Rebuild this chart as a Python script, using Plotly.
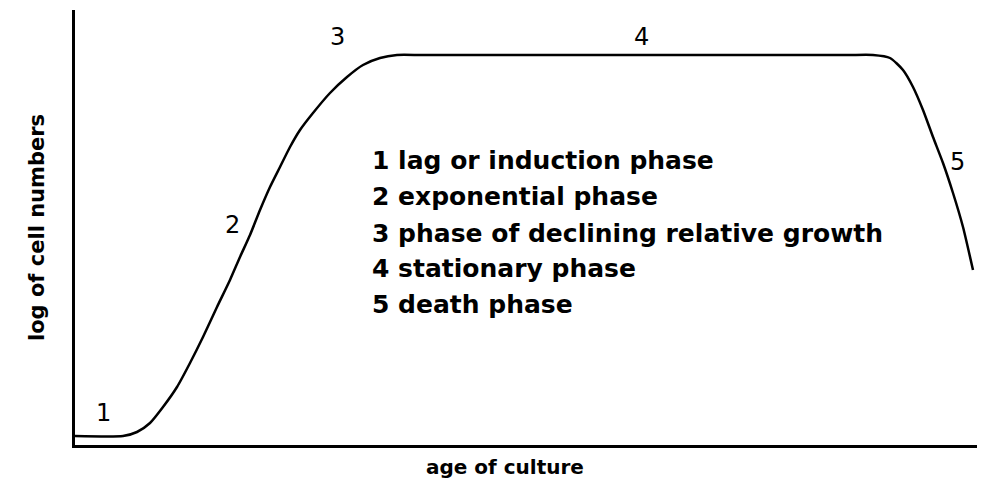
import plotly.graph_objects as go

# growth curve (age in arbitrary units, log of cell numbers)
age = [0, 4.8, 6.2, 7.5, 8.8, 10.2, 11.5, 12.8, 14.2, 15.5, 16.5, 17.5, 18.5, 19.5, 20.5,
       21.5, 22.5, 23.8, 25.5, 27.2, 28.8, 30.5, 32.2, 34.5, 37.0, 45.0, 56.0, 67.0, 75.0,
       77.5, 79.8, 81.5, 82.8, 83.8, 84.8, 85.8, 86.8, 87.8, 88.8, 89.8]
log_cells = [0.9, 0.9, 1.3, 2.2, 3.8, 5.8, 8.2, 10.8, 13.8, 16.5, 18.8, 21.0, 23.5, 25.8, 27.8,
             29.8, 31.5, 33.2, 35.2, 36.8, 38.0, 38.7, 39.0, 39.0, 39.0, 39.0, 39.0, 39.0, 39.0,
             39.0, 39.0, 38.7, 37.5, 35.8, 33.5, 30.8, 28.2, 25.2, 21.8, 17.5]

phase_nums = ["1", "2", "3", "4", "5"]
phase_x = [2.8, 15.7, 26.2, 56.6, 88.2]
phase_y = [3.2, 22.0, 40.8, 40.8, 28.3]

legend_lines = ["1 lag or induction phase", "2 exponential phase",
                "3 phase of declining relative growth", "4 stationary phase", "5 death phase"]
legend_y = [28.5, 24.9, 21.2, 17.7, 14.1]

font = "DejaVu Sans"

fig = go.Figure(go.Scatter(x=age, y=log_cells, mode="lines", line_shape="spline",
                           line=dict(color="black", width=2.5, smoothing=0.6), hoverinfo="skip"))

for n, x, y in zip(phase_nums, phase_x, phase_y):
    fig.add_annotation(x=x, y=y, text=n, showarrow=False,
                       font=dict(family=font, size=24, color="black"))

for t, y in zip(legend_lines, legend_y):
    fig.add_annotation(x=29.5, y=y, text=t, showarrow=False, xanchor="left",
                       font=dict(family=font, size=25, color="black", weight="bold"))

fig.add_annotation(x=43.0, y=0, yref="paper", yanchor="middle", yshift=-22,
                   text="age of culture", showarrow=False,
                   font=dict(family=font, size=20, color="black", weight="bold"))

fig.update_layout(
    width=985, height=486,
    margin=dict(l=67, r=8, t=2, b=49),
    paper_bgcolor="white", plot_bgcolor="white",
    showlegend=False,
    xaxis=dict(range=[0, 91], showline=True, linecolor="black", linewidth=3,
               showgrid=False, zeroline=False, showticklabels=False, ticks=""),
    yaxis=dict(range=[0, 43.5], showline=True, linecolor="black", linewidth=3,
               showgrid=False, zeroline=False, showticklabels=False, ticks="",
               title=dict(text="log of cell numbers", standoff=22,
                          font=dict(family=font, size=21, color="black", weight="bold"))),
)

fig.write_html("out.html")
